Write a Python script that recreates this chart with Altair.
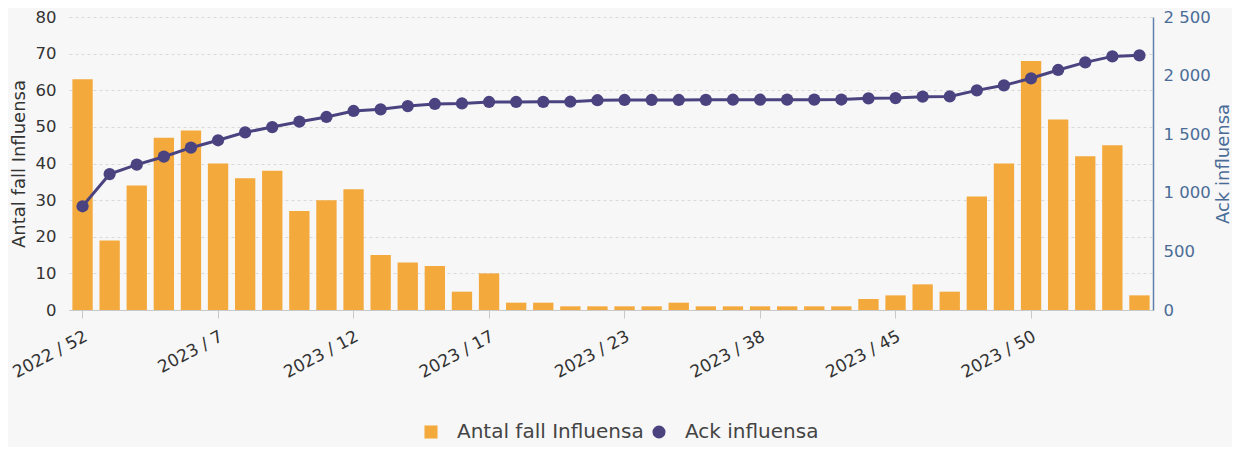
import altair as alt
import pandas as pd

weeks = [
    "2022 / 52", "2023 / 2", "2023 / 3", "2023 / 4", "2023 / 6",
    "2023 / 7", "2023 / 8", "2023 / 9", "2023 / 10", "2023 / 11",
    "2023 / 12", "2023 / 13", "2023 / 14", "2023 / 15", "2023 / 16",
    "2023 / 17", "2023 / 18", "2023 / 19", "2023 / 20", "2023 / 22",
    "2023 / 23", "2023 / 25", "2023 / 28", "2023 / 33", "2023 / 35",
    "2023 / 38", "2023 / 39", "2023 / 40", "2023 / 42", "2023 / 44",
    "2023 / 45", "2023 / 46", "2023 / 47", "2023 / 48", "2023 / 49",
    "2023 / 50", "2023 / 51", "2023 / 52", "2024 / 1", "2024 / 2",
]
antal = [63, 19, 34, 47, 49, 40, 36, 38, 27, 30,
         33, 15, 13, 12, 5, 10, 2, 2, 1, 1,
         1, 1, 2, 1, 1, 1, 1, 1, 1, 3,
         4, 7, 5, 31, 40, 68, 52, 42, 45, 4]
ack = [885, 1160, 1240, 1308, 1385, 1448, 1516, 1561, 1607, 1647,
       1698, 1712, 1740, 1758, 1762, 1775, 1775, 1776, 1777, 1790,
       1792, 1792, 1792, 1793, 1794, 1794, 1795, 1795, 1796, 1806,
       1808, 1820, 1822, 1874, 1917, 1977, 2048, 2113, 2164, 2173]
tick_weeks = ["2022 / 52", "2023 / 7", "2023 / 12", "2023 / 17",
              "2023 / 23", "2023 / 38", "2023 / 45", "2023 / 50"]
series = ["Antal fall Influensa", "Ack influensa"]
left_ticks = [0, 10, 20, 30, 40, 50, 60, 70, 80]
right_ticks = [0, 500, 1000, 1500, 2000, 2500]

df = pd.DataFrame({
    "vecka": weeks,
    "antal": antal,
    "ack": ack,
    "s_bar": series[0],
    "s_line": series[1],
})

FONT = "DejaVu Sans"
BAR = "#F4A93D"
LINE = "#4A4380"
RBLUE = "#4B6C97"

xenc = alt.X(
    "vecka:N", sort=None,
    scale=alt.Scale(paddingInner=0.25, paddingOuter=0.125),
    axis=alt.Axis(values=tick_weeks, title=None, labelAngle=-28,
                  labelFontSize=17, labelColor="#333333", labelFont=FONT,
                  domainColor="#c8c8c8", tickColor="#c8c8c8", tickSize=8,
                  labelPadding=10, grid=False),
)

color_scale = alt.Scale(domain=series, range=[BAR, LINE])
shape_scale = alt.Scale(domain=series, range=["square", "circle"])
legend = alt.Legend(title=None, orient="none", legendX=352, legendY=405,
                    direction="horizontal", labelFontSize=20,
                    labelColor="#444444", labelFont=FONT, symbolSize=170,
                    columnPadding=5, labelOffset=16, labelLimit=400)

bars = alt.Chart(df).mark_bar().encode(
    x=xenc,
    y=alt.Y("antal:Q", scale=alt.Scale(domain=[0, 80], nice=False),
            axis=alt.Axis(title="Antal fall Influensa", values=left_ticks,
                          grid=True, gridDash=[3, 3], gridColor="#d9d9d9",
                          domain=False, ticks=False, labelPadding=13,
                          labelFontSize=16.5, labelColor="#333333",
                          titleFontSize=18, titleColor="#333333",
                          titleFontWeight="normal", titlePadding=7)),
    color=alt.Color("s_bar:N", scale=color_scale, legend=legend),
)

yright = alt.Y(
    "ack:Q", scale=alt.Scale(domain=[0, 2500], nice=False),
    axis=alt.Axis(orient="right", title="Ack influensa", values=right_ticks,
                  grid=False, domain=True, domainColor="#5F80AA",
                  domainWidth=1.5, ticks=False, labelPadding=10,
                  labelFontSize=16.5, labelColor=RBLUE,
                  labelExpr="replace(format(datum.value, ','), ',', ' ')",
                  titleFontSize=18, titleColor=RBLUE, titleAngle=270,
                  titleBaseline="top",
                  titleFontWeight="normal", titlePadding=4),
)

line = alt.Chart(df).mark_line(color=LINE, strokeWidth=3).encode(
    x=xenc, y=yright,
)
points = alt.Chart(df).mark_point(filled=True, size=150, opacity=1).encode(
    x=xenc, y=yright,
    color=alt.Color("s_line:N", scale=color_scale, legend=legend),
    shape=alt.Shape("s_line:N", scale=shape_scale, legend=legend),
)

right = alt.layer(line, points)

chart = alt.layer(bars, right).resolve_scale(y="independent").properties(
    width=1084, height=293,
    padding={"left": 61, "top": 9, "right": 79, "bottom": 137},
    autosize=alt.AutoSizeParams(type="none"),
    background="#f7f7f7",
).configure_view(stroke=None).configure_axis(labelFont=FONT, titleFont=FONT)

chart.save("out.html", embed_options={"renderer": "svg", "actions": False})
